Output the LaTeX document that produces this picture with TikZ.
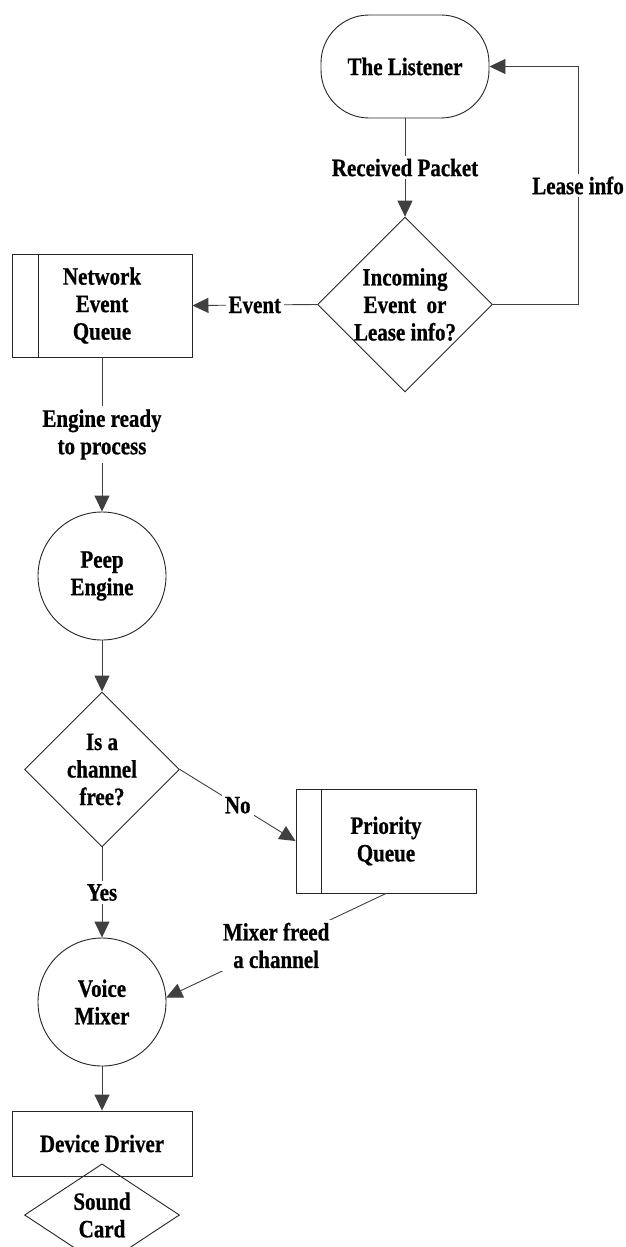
\documentclass[tikz,border=0pt]{standalone}
\usepackage{fontspec}
\setmainfont[FakeStretch=0.84, BoldFeatures={FakeBold=0.7}]{Liberation Serif}
\usetikzlibrary{shapes.geometric,arrows.meta,calc}
\begin{document}
\begin{tikzpicture}[x=1pt,y=-1pt,
  every node/.style={font=\fontsize{25}{27.5}\selectfont\bfseries, align=center, inner sep=0pt},
  shapeline/.style={draw=black!85, line width=0.9pt},
  conn/.style={draw=black!75, line width=0.9pt},
  arr/.style={conn, -{Triangle[length=16pt,width=15pt]}},
  lbl/.style={fill=white, inner sep=3pt},
  boxnode/.style={shapeline, rectangle, minimum width=180pt},
  circnode/.style={shapeline, circle, minimum size=128pt}]
\useasboundingbox (0,0) rectangle (626,1247);
\fill[white] (0,0) rectangle (626,1247);

% nodes
\node[shapeline, rectangle, rounded corners=48pt, minimum width=168pt, minimum height=103pt] (listener) at (405,66.5) {The Listener};
\node[shapeline, diamond, minimum width=168pt, minimum height=165pt] (d1) at (405,304.5) {Incoming\\Event\ \ or\\Lease info?};
\node[boxnode, minimum height=103pt] (neq) at (102,305.5) {Network\\Event\\Queue};
\draw[shapeline] (38,254) -- (38,357);
\node[circnode] (peep) at (102,576) {Peep\\Engine};
\node[shapeline, diamond, minimum width=155pt, minimum height=155pt] (d2) at (102,769.5) {Is a\\channel\\free?};
\node[boxnode, minimum height=104pt] (pq) at (386,841) {Priority\\Queue};
\draw[shapeline] (321,789) -- (321,893);
\node[circnode] (mixer) at (102,1002) {Voice\\Mixer};
\node[boxnode, minimum height=65pt] (dd) at (102,1143.5) {Device Driver};
\node[shapeline, diamond, minimum width=155pt, minimum height=78pt] (sc) at (102,1215) {Sound\\Card};

% connectors
\coordinate (c1) at (578,304.5);
\coordinate (c2) at (578,66.5);
\draw[arr] (listener.south) -- node[lbl] {Received Packet} (d1.north);
\draw[arr] (d1.east) -- (c1) -- node[lbl] {Lease info} (c2) -- (listener.east);
\draw[arr] (d1.west) -- node[lbl] {Event} (neq.east);
\draw[arr] (neq.south) -- node[lbl] {Engine ready\\to process} (peep.north);
\draw[arr] (peep.south) -- (d2.north);
\draw[arr] (d2.south) -- node[lbl] {Yes} (mixer.north);
\draw[arr] (d2.east) -- node[lbl] {No} (pq.west);
\draw[arr] (pq.south) -- node[lbl] {Mixer freed\\a channel} (mixer.4);
\draw[arr] (mixer.south) -- (dd.north);
\end{tikzpicture}
\end{document}
